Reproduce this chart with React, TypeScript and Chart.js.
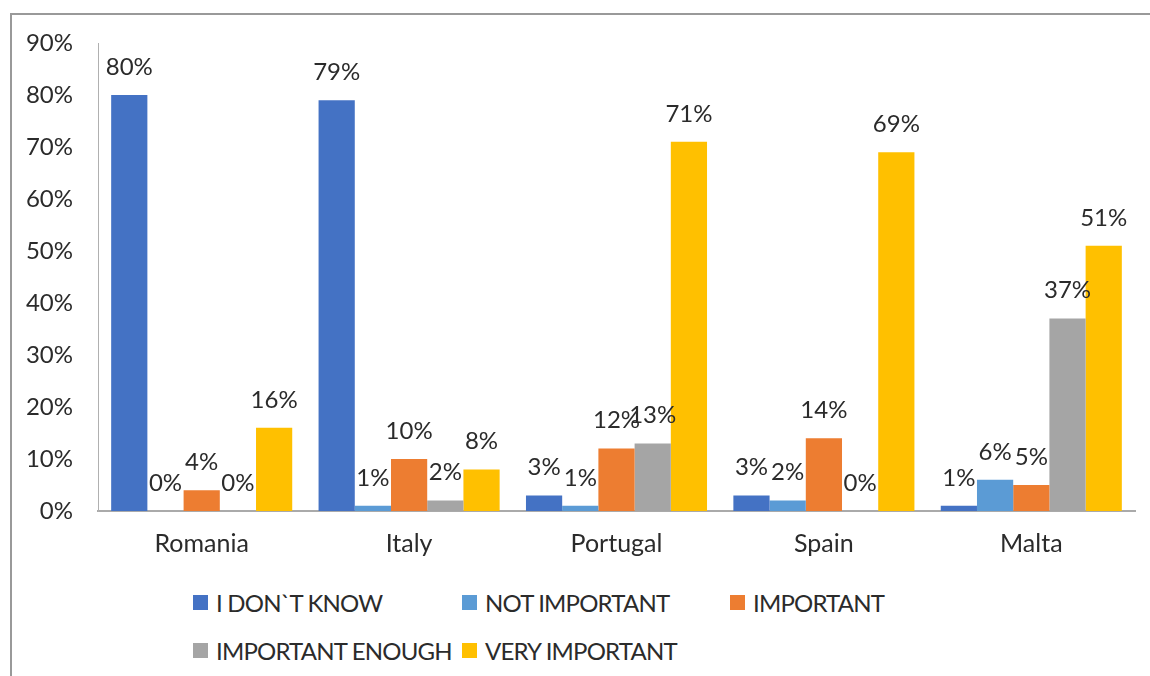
import React, { useEffect, useRef } from "react";
import { Chart, registerables } from "chart.js";

Chart.register(...registerables);

const categories = ["Romania", "Italy", "Portugal", "Spain", "Malta"];
const seriesNames = ["I DON`T KNOW", "NOT IMPORTANT", "IMPORTANT", "IMPORTANT ENOUGH", "VERY IMPORTANT"];
const seriesColors = ["#4472C4", "#5B9BD5", "#ED7D31", "#A5A5A5", "#FFC000"];
const dontKnow = [80, 79, 3, 3, 1];
const notImportant = [0, 1, 1, 2, 6];
const important = [4, 10, 12, 14, 5];
const importantEnough = [0, 2, 13, 0, 37];
const veryImportant = [16, 8, 71, 69, 51];
const seriesValues = [dontKnow, notImportant, important, importantEnough, veryImportant];
const yTicks = [0, 10, 20, 30, 40, 50, 60, 70, 80, 90];

const FONT = "Lato";
const TEXT = "#2b2b2b";

const valueLabels = {
  id: "valueLabels",
  afterDatasetsDraw(chart: any) {
    const ctx = chart.ctx;
    ctx.save();
    ctx.font = `24px ${FONT}`;
    ctx.fillStyle = TEXT;
    ctx.textAlign = "center";
    ctx.textBaseline = "middle";
    chart.data.datasets.forEach((ds: any, i: number) => {
      const meta = chart.getDatasetMeta(i);
      meta.data.forEach((bar: any, j: number) => {
        ctx.fillText(`${ds.data[j]}%`, bar.x, bar.y - 28);
      });
    });
    ctx.restore();
  },
};

export default function App() {
  const ref = useRef<HTMLCanvasElement>(null);
  useEffect(() => {
    if (!ref.current) return;
    const chart = new Chart(ref.current, {
      type: "bar",
      data: {
        labels: categories,
        datasets: seriesNames.map((name, i) => ({
          label: name,
          data: seriesValues[i],
          backgroundColor: seriesColors[i],
          borderWidth: 0,
          categoryPercentage: 0.873,
          barPercentage: 1,
        })),
      },
      options: {
        responsive: false,
        animation: false,
        layout: { padding: { left: 0, top: 43, right: 15, bottom: 0 } },
        plugins: { legend: { display: false }, tooltip: { enabled: false } },
        scales: {
          x: {
            grid: { display: false, drawTicks: false },
            border: { display: true, color: "#aaaaaa", width: 2 },
            ticks: { color: TEXT, font: { family: FONT, size: 25 }, padding: 18 },
            afterFit: (s: any) => { s.height = 49; },
          },
          y: {
            min: 0,
            max: 90,
            afterBuildTicks: (s: any) => { s.ticks = yTicks.map((v) => ({ value: v })); },
            grid: { display: false, drawTicks: false },
            border: { display: true, color: "#b0b0b0", width: 1 },
            ticks: { color: TEXT, font: { family: FONT, size: 24 }, padding: 25, callback: (v: any) => `${v}%` },
            afterFit: (s: any) => { s.width = 98; },
          },
        },
      },
      plugins: [valueLabels],
    });
    return () => chart.destroy();
  }, []);

  const legendPos = [
    [193, 602], [462, 602], [730, 602], [193, 650], [462, 650],
  ];

  return (
    <div style={{ position: "absolute", left: 0, top: 0, width: 1150, height: 676, background: "#fff", overflow: "hidden" }}>
      <div style={{ position: "absolute", left: 10, top: 13, width: 1150, height: 700, borderTop: "2px solid #999", borderLeft: "2px solid #999" }} />
      <canvas ref={ref} width={1150} height={560} style={{ position: "absolute", left: 0, top: 0 }} />
      {seriesNames.map((name, i) => (
        <div key={name} style={{ position: "absolute", left: legendPos[i][0], top: legendPos[i][1] - 15, height: 30, display: "flex", alignItems: "center", fontFamily: FONT, fontSize: 24, letterSpacing: "-0.8px", color: TEXT, whiteSpace: "nowrap" }}>
          <span style={{ display: "inline-block", width: 15, height: 15, background: seriesColors[i], marginRight: 8 }} />
          <span>{name}</span>
        </div>
      ))}
    </div>
  );
}
